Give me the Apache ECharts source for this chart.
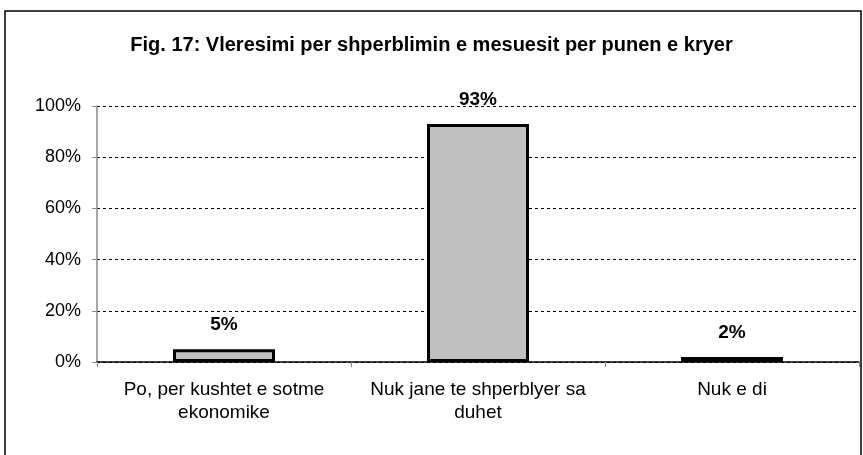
<!DOCTYPE html>
<html>
<head>
<meta charset="utf-8">
<script src="https://cdn.jsdelivr.net/npm/echarts@6/dist/echarts.min.js"></script>
<style>
  html, body { margin: 0; padding: 0; background: #fff; }
  #main { width: 863px; height: 455px; }
</style>
</head>
<body>
<div id="main"></div>
<script>
// categories and values (percent)
var categories = ['Po, per kushtet e sotme\nekonomike', 'Nuk jane te shperblyer sa\nduhet', 'Nuk e di'];
var values = [5, 93, 2];
var yTicks = [0, 20, 40, 60, 80, 100];

var chart = echarts.init(document.getElementById('main'));

var option = {
    animation: false,
    backgroundColor: '#fff',
    title: {
        text: 'Fig. 17: Vleresimi per shperblimin e mesuesit per punen e kryer',
        left: 'center',
        top: 30,
        textStyle: {
            fontFamily: 'Liberation Sans',
            fontSize: 20,
            fontWeight: 'bold',
            color: '#000'
        }
    },
    graphic: [{
        type: 'rect',
        shape: { x: 5, y: 11, width: 856, height: 460 },
        style: { fill: 'none', stroke: '#000', lineWidth: 1.5 },
        silent: true
    }],
    grid: {
        left: 97,
        right: 4,
        top: 106,
        bottom: 93
    },
    xAxis: {
        type: 'category',
        data: categories,
        axisLine: { lineStyle: { color: '#000', width: 1.5 } },
        axisTick: { show: true, length: 5, lineStyle: { color: '#888' } },
        axisLabel: {
            interval: 0,
            hideOverlap: false,
            fontFamily: 'Liberation Sans',
            fontSize: 19,
            color: '#000',
            margin: 16,
            lineHeight: 23
        }
    },
    yAxis: {
        type: 'value',
        min: yTicks[0],
        max: yTicks[yTicks.length - 1],
        interval: 20,
        axisLine: { show: true, lineStyle: { color: '#888', width: 1.5 } },
        axisTick: { show: true, length: 5, lineStyle: { color: '#888' } },
        axisLabel: {
            formatter: '{value}%',
            fontFamily: 'Liberation Sans',
            fontSize: 18,
            color: '#000',
            margin: 16
        },
        splitLine: {
            show: true,
            lineStyle: { color: '#000', type: [3, 3], width: 1 }
        }
    },
    series: [{
        type: 'bar',
        data: values,
        barWidth: 102,
        itemStyle: {
            color: '#c0c0c0',
            borderColor: '#000',
            borderWidth: 3
        },
        label: {
            show: true,
            position: 'top',
            distance: 15,
            formatter: '{c}%',
            fontFamily: 'Liberation Sans',
            fontSize: 19,
            fontWeight: 'bold',
            color: '#000'
        }
    }]
};

chart.setOption(option);
</script>
</body>
</html>
